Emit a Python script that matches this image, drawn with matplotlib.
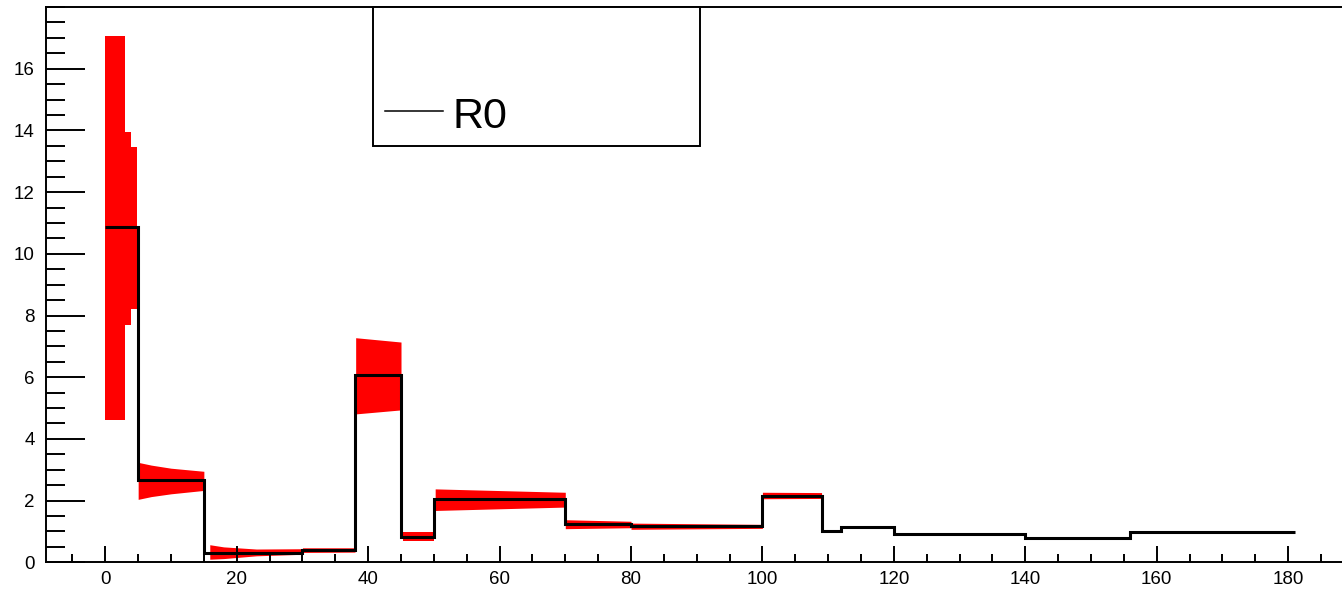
import matplotlib
matplotlib.use("Agg")
import matplotlib.pyplot as plt
from matplotlib.patches import Rectangle
from matplotlib.lines import Line2D
from matplotlib.ticker import MultipleLocator, FixedLocator

plt.rcParams['font.family'] = ['Liberation Sans', 'DejaVu Sans']

# Step line (R0 per period)
bin_edges = [0, 5, 15, 30, 38, 45, 50, 70, 80, 100, 109, 112, 120, 140, 156, 181]
r0_values = [10.86, 2.67, 0.31, 0.40, 6.06, 0.83, 2.04, 1.24, 1.17, 2.16, 1.00, 1.13, 0.91, 0.78, 0.97]

# Red uncertainty band
band_x = [0, 2.93, 2.93, 3.95, 3.95, 4.9,
          5.0, 7, 10, 15,
          15.9, 18, 23, 30, 30, 38,
          38.1, 45,
          45.3, 50,
          50.2, 70,
          70, 80,
          80, 100,
          100, 109,
          109, 112,
          112, 120]
band_hi = [17.07, 17.07, 13.95, 13.95, 13.45, 13.45,
           3.24, 3.15, 3.05, 2.95,
           0.57, 0.50, 0.43, 0.44, 0.47, 0.47,
           7.28, 7.14,
           0.97, 0.97,
           2.38, 2.27,
           1.38, 1.33,
           1.27, 1.23,
           2.27, 2.26,
           1.04, 1.04,
           1.16, 1.16]
band_lo = [4.60, 4.60, 7.70, 7.70, 8.20, 8.20,
           2.04, 2.13, 2.22, 2.33,
           0.10, 0.12, 0.21, 0.26, 0.32, 0.33,
           4.81, 4.94,
           0.69, 0.69,
           1.68, 1.79,
           1.09, 1.12,
           1.07, 1.10,
           2.06, 2.07,
           0.96, 0.96,
           1.10, 1.10]

y_major_ticks = [0, 2, 4, 6, 8, 10, 12, 14, 16]

W, H = 1342, 590
fig = plt.figure(figsize=(W / 100, H / 100), dpi=100)
ax = fig.add_axes([45.7 / W, 27.7 / H, (W - 45.7) / W, (562.3 - 7) / H])

seg_starts = [0, 6, 10, 16, 18, 20, 22, 24, 26, 28, 30]
seg_ends = seg_starts[1:] + [len(band_x)]
for s, e in zip(seg_starts, seg_ends):
    ax.fill_between(band_x[s:e], band_lo[s:e], band_hi[s:e], color='#ff0000', linewidth=0)

ax.stairs(r0_values, bin_edges, baseline=None, color='black', linewidth=2.2)

ax.set_xlim(-9.07, 188.2)
ax.set_ylim(0, 18)

ax.xaxis.set_major_locator(MultipleLocator(20))
ax.xaxis.set_minor_locator(MultipleLocator(5))
ax.yaxis.set_major_locator(FixedLocator(y_major_ticks))
ax.yaxis.set_minor_locator(MultipleLocator(0.5))

ax.tick_params(axis='both', which='both', direction='in', width=1.4, labelsize=13.5,
               top=False, right=False)
ax.tick_params(axis='y', which='major', length=28, pad=8)
ax.tick_params(axis='y', which='minor', length=13.7)
ax.tick_params(axis='x', which='major', length=11.5, pad=6)
ax.tick_params(axis='x', which='minor', length=5.8)

for side in ['left', 'bottom', 'top']:
    ax.spines[side].set_linewidth(1.4)
ax.spines['right'].set_visible(False)

# Legend box (ROOT style)
lx0, lx1 = 372.7 / W, 700 / W
ly0, ly1 = (H - 145.7) / H, (H - 7) / H
fig.add_artist(Rectangle((lx0, ly0), lx1 - lx0, ly1 - ly0, transform=fig.transFigure,
                         facecolor='white', edgecolor='black', linewidth=1.4, zorder=5))
fig.add_artist(Line2D([385 / W, 442.7 / W], [(H - 111) / H, (H - 111) / H],
                      transform=fig.transFigure, color='black', linewidth=1.1, zorder=6))
fig.text(452.6 / W, (H - 127.7) / H, 'R0', fontsize=31, ha='left', va='baseline', zorder=6)

fig.savefig('out.png', dpi=100)
